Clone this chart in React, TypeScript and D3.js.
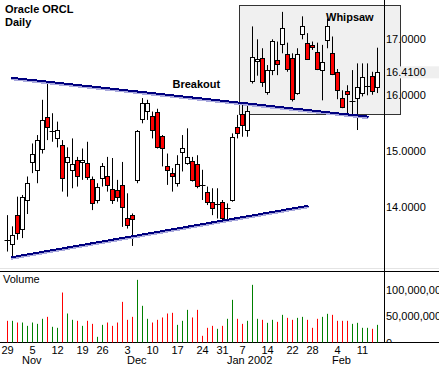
import React, { useEffect, useRef } from "react";
import * as d3 from "d3";

// trading days shown on the chart
const dates = [
    "2001-10-29", "2001-10-30", "2001-10-31",
    "2001-11-01", "2001-11-02", "2001-11-05", "2001-11-06", "2001-11-07", "2001-11-08", "2001-11-09",
    "2001-11-12", "2001-11-13", "2001-11-14", "2001-11-15", "2001-11-16", "2001-11-19", "2001-11-20",
    "2001-11-21", "2001-11-23", "2001-11-26", "2001-11-27", "2001-11-28", "2001-11-29", "2001-11-30",
    "2001-12-03", "2001-12-04", "2001-12-05", "2001-12-06", "2001-12-07", "2001-12-10", "2001-12-11",
    "2001-12-12", "2001-12-13", "2001-12-14", "2001-12-17", "2001-12-18", "2001-12-19", "2001-12-20",
    "2001-12-21", "2001-12-24", "2001-12-26", "2001-12-27", "2001-12-28", "2001-12-31",
    "2002-01-02", "2002-01-03", "2002-01-04", "2002-01-07", "2002-01-08", "2002-01-09", "2002-01-10",
    "2002-01-11", "2002-01-14", "2002-01-15", "2002-01-16", "2002-01-17", "2002-01-18", "2002-01-22",
    "2002-01-23", "2002-01-24", "2002-01-25", "2002-01-28", "2002-01-29", "2002-01-30", "2002-01-31",
    "2002-02-01", "2002-02-04", "2002-02-05", "2002-02-06", "2002-02-07", "2002-02-08", "2002-02-11",
    "2002-02-12", "2002-02-13", "2002-02-14"
];

const opens = [
    13.43, 13.34, 13.87, 13.60, 14.13, 14.81, 14.67, 15.04, 15.61, 15.36,
    15.23, 15.11, 14.81, 14.67, 14.84, 14.81, 14.80, 14.50, 14.13, 14.52,
    14.56, 14.32, 14.31, 14.40, 13.81, 13.87, 14.49, 15.59, 15.73, 15.63,
    15.71, 15.28, 14.73, 14.62, 14.43, 14.98, 14.79, 14.83, 14.77, 14.41,
    14.27, 14.10, 14.05, 14.09, 13.98, 14.13, 15.43, 15.67, 15.38, 16.27,
    16.60, 16.66, 16.05, 16.46, 16.63, 16.91, 16.73, 16.66, 16.04, 17.09,
    16.94, 16.90, 16.78, 16.45, 16.99, 16.76, 16.42, 15.95, 16.08, 15.89,
    15.96, 16.04, 16.15, 16.35, 16.15
];
const highs = [
    13.86, 13.66, 14.19, 14.22, 14.55, 15.14, 15.29, 15.92, 16.24, 15.68,
    15.53, 15.20, 15.07, 15.23, 14.90, 15.05, 15.17, 14.55, 14.43, 14.79,
    14.90, 14.88, 14.49, 14.81, 14.25, 13.89, 15.38, 15.95, 15.92, 15.71,
    15.76, 15.29, 14.96, 14.70, 14.93, 15.29, 15.41, 14.90, 14.93, 14.67,
    14.37, 14.34, 14.34, 14.13, 14.07, 15.32, 15.65, 15.83, 15.86, 17.23,
    17.00, 16.84, 16.54, 17.00, 16.96, 17.49, 16.94, 16.75, 16.84, 17.41,
    17.11, 16.96, 16.94, 16.90, 17.37, 17.05, 16.47, 16.09, 16.18, 16.45,
    16.57, 16.57, 16.57, 16.42, 16.85
];
const lows = [
    13.21, 13.12, 13.42, 13.45, 13.88, 14.61, 14.43, 14.96, 15.20, 15.17,
    15.07, 14.28, 14.19, 14.34, 14.37, 14.49, 14.49, 13.95, 14.07, 14.37,
    14.28, 14.06, 14.10, 13.65, 13.62, 13.31, 14.43, 15.50, 15.56, 15.23,
    15.05, 14.73, 14.40, 14.28, 14.37, 14.64, 14.76, 14.46, 14.34, 14.13,
    14.04, 13.86, 13.80, 13.77, 13.77, 14.10, 15.23, 15.26, 15.26, 16.21,
    16.35, 16.15, 16.01, 16.36, 16.36, 16.75, 16.42, 15.89, 16.01, 17.00,
    16.63, 16.81, 16.45, 15.91, 16.84, 16.36, 15.93, 15.77, 15.65, 15.65,
    15.38, 15.98, 16.00, 16.01, 16.04
];
const closes = [
    13.41, 13.50, 13.55, 14.18, 14.44, 14.95, 15.21, 15.56, 15.44, 15.37,
    15.38, 14.52, 14.90, 14.77, 14.55, 14.85, 14.55, 14.07, 14.36, 14.73,
    14.40, 14.12, 14.19, 14.01, 13.68, 13.80, 15.37, 15.87, 15.87, 15.38,
    15.08, 15.06, 14.65, 14.56, 14.77, 15.05, 14.90, 14.49, 14.37, 14.40,
    14.09, 13.99, 14.06, 13.80, 13.99, 15.26, 15.33, 15.48, 15.72, 16.69,
    16.64, 16.24, 16.45, 16.97, 16.56, 17.20, 16.46, 15.92, 16.73, 17.23,
    16.66, 16.87, 16.48, 16.59, 17.24, 16.38, 16.09, 15.79, 16.02, 15.90,
    16.15, 16.33, 16.16, 16.09, 16.41
];
// volume in millions of shares
const volumes = [
    40.9, 40.9, 37.7, 37.7, 31.4, 37.7, 35.2, 44.7, 48.4, 29.6,
    27.7, 94.3, 54.7, 42.8, 40.9, 31.4, 40.9, 35.2, 10.7, 33.3,
    37.7, 31.4, 37.7, 76.7, 42.8, 48.4, 118.2, 69.2, 44.7, 37.7,
    42.8, 47.2, 54.7, 56.0, 33.3, 40.9, 61.6, 47.2, 61.6, 12.6,
    27.7, 31.4, 25.8, 31.4, 44.7, 80.5, 44.7, 35.2, 40.9, 108.8,
    44.7, 42.8, 37.1, 42.8, 39.0, 52.2, 46.5, 42.8, 46.5, 48.4,
    42.8, 27.7, 44.7, 48.4, 54.1, 52.2, 40.9, 40.9, 40.9, 35.2,
    37.1, 27.7, 27.7, 25.8, 33.3
];

const priceTicks = [14, 15, 16, 17];
const lastPrice = 16.41;
const volumeTicks = [0, 50000000, 100000000];

// annotations, in [bar index, price]
const upperTrend = [[0.7, 16.314], [72.2, 15.618]];
const lowerTrend = [[0.7, 13.107], [60.2, 14.029]];
const whipsawBox = [[46.36, 17.607], [78.6, 15.66]];
const notes = [
    { text: "Breakout", at: [33.0, 16.13] },
    { text: "Whipsaw", at: [63.7, 17.33] }
];

function App() {
    const chart = useRef(null);

    useEffect(() => {
        const width = 439;
        const height = 365;
        const axisX = 384.5;
        const font = "'Liberation Sans', Arial, sans-serif";

        const svg = d3.select(chart.current)
            .attr("width", width)
            .attr("height", height)
            .style("position", "absolute")
            .style("left", "0px")
            .style("top", "0px")
            .style("background", "#fff");

        const x = d3.scaleLinear().domain([0, dates.length - 1]).range([7.5, 377.5]);
        const y = d3.scaleLinear().domain([14, 17]).range([207.3, 39.3]);
        const yVol = d3.scaleLinear().domain([0, 100]).range([342.5, 289.5]);
        const parse = d3.timeParse("%Y-%m-%d");
        const days = dates.map(d => parse(d));
        const data = dates.map((d, i) => ({
            i, o: opens[i], h: highs[i], l: lows[i], c: closes[i], v: volumes[i]
        }));

        // whipsaw box
        svg.append("rect")
            .attr("x", Math.round(x(whipsawBox[0][0])) + 0.5)
            .attr("y", Math.round(y(whipsawBox[0][1])) + 0.5)
            .attr("width", Math.round(x(whipsawBox[1][0]) - x(whipsawBox[0][0])))
            .attr("height", Math.round(y(whipsawBox[1][1]) - y(whipsawBox[0][1])))
            .attr("fill", "#f0f0f0")
            .attr("stroke", "#333");

        // last price band
        svg.append("rect")
            .attr("x", axisX + 0.5)
            .attr("y", y(lastPrice) - 6)
            .attr("width", width - axisX)
            .attr("height", 12)
            .attr("fill", "#efefef");

        // panel lines
        svg.append("line")
            .attr("x1", 0).attr("x2", width)
            .attr("y1", 268.5).attr("y2", 268.5)
            .attr("stroke", "#e4e4e4");
        svg.append("line")
            .attr("x1", 0).attr("x2", width)
            .attr("y1", 271.5).attr("y2", 271.5)
            .attr("stroke", "#000");
        svg.append("line")
            .attr("x1", 0).attr("x2", width)
            .attr("y1", 342.5).attr("y2", 342.5)
            .attr("stroke", "#000");

        // candles
        const candles = svg.append("g");
        candles.selectAll(".wick")
            .data(data)
            .enter()
            .append("line")
            .attr("x1", d => x(d.i)).attr("x2", d => x(d.i))
            .attr("y1", d => y(d.h)).attr("y2", d => y(d.l))
            .attr("stroke", "#000");
        candles.selectAll(".body")
            .data(data.filter(d => Math.abs(y(d.o) - y(d.c)) >= 1.5))
            .enter()
            .append("rect")
            .attr("x", d => x(d.i) - 2)
            .attr("y", d => Math.round(y(Math.max(d.o, d.c))) + 0.5)
            .attr("width", 4)
            .attr("height", d => Math.round(Math.abs(y(d.o) - y(d.c))))
            .attr("fill", d => d.c > d.o ? "#fff" : "#ff0000")
            .attr("stroke", "#000");
        candles.selectAll(".doji")
            .data(data.filter(d => Math.abs(y(d.o) - y(d.c)) < 1.5))
            .enter()
            .append("line")
            .attr("x1", d => x(d.i) - 3).attr("x2", d => x(d.i) + 3)
            .attr("y1", d => Math.round(y(d.c)) + 0.5)
            .attr("y2", d => Math.round(y(d.c)) + 0.5)
            .attr("stroke", "#000");

        // trend lines
        const line = d3.line()
            .x(d => x(d[0]))
            .y(d => y(d[1]));
        [upperTrend, lowerTrend].forEach(t => {
            svg.append("path")
                .attr("d", line(t))
                .attr("transform", "translate(0,1.5)")
                .attr("fill", "none")
                .attr("stroke", "#a8a8dc")
                .attr("stroke-width", 2)
                .attr("shape-rendering", "crispEdges");
            svg.append("path")
                .attr("d", line(t))
                .attr("fill", "none")
                .attr("stroke", "#000080")
                .attr("stroke-width", 2)
                .attr("shape-rendering", "crispEdges");
        });

        // volume bars
        svg.selectAll(".vol")
            .data(data)
            .enter()
            .append("line")
            .attr("x1", d => x(d.i)).attr("x2", d => x(d.i))
            .attr("y1", yVol(0)).attr("y2", d => yVol(d.v))
            .attr("stroke", d => d.c >= d.o ? "#008000" : "#ff0000");

        // right axis
        svg.append("line")
            .attr("x1", axisX).attr("x2", axisX)
            .attr("y1", 0).attr("y2", 343)
            .attr("stroke", "#000");

        const text = (g, s, tx, ty, opts = {}) => g.append("text")
            .attr("x", tx)
            .attr("y", ty)
            .attr("font-family", font)
            .attr("font-size", opts.size || 11)
            .attr("font-weight", opts.bold ? "bold" : "normal")
            .attr("text-anchor", opts.anchor || "start")
            .attr("fill", "#000")
            .text(s);

        const fmt = d3.format(".4f");
        priceTicks.concat([lastPrice]).forEach(p => text(svg, fmt(p), axisX + 1.5, y(p) + 4));

        svg.append("clipPath").attr("id", "volclip")
            .append("rect").attr("x", 0).attr("y", 272).attr("width", width).attr("height", 70);
        const volAxis = svg.append("g").attr("clip-path", "url(#volclip)");
        const vfmt = d3.format(",");
        volumeTicks.forEach(v => text(volAxis, vfmt(v), axisX + 1.5, yVol(v / 1e6) + 4));

        // date axis
        days.forEach((d, i) => {
            const prev = days[i - 1];
            if (i === 0 || d.getDay() < prev.getDay()) {
                text(svg, String(d.getDate()), x(i), 353.5, { anchor: "middle" });
            }
            if (i > 0 && d.getMonth() !== prev.getMonth()) {
                const label = d.getFullYear() !== prev.getFullYear()
                    ? d3.timeFormat("%b %Y")(d) : d3.timeFormat("%b")(d);
                text(svg, label, x(i) - 0.5, 364);
            }
        });

        // titles and notes
        text(svg, "Oracle ORCL", 5, 13, { bold: true });
        text(svg, "Daily", 5, 26, { bold: true });
        text(svg, "Volume", 3, 283);
        notes.forEach(n => text(svg, n.text, x(n.at[0]), y(n.at[1]), { bold: true }));

        return () => {
            svg.selectAll("*").remove();
        };
    }, []);

    return (
        <svg ref={chart}></svg>
    );
}

export default App;
